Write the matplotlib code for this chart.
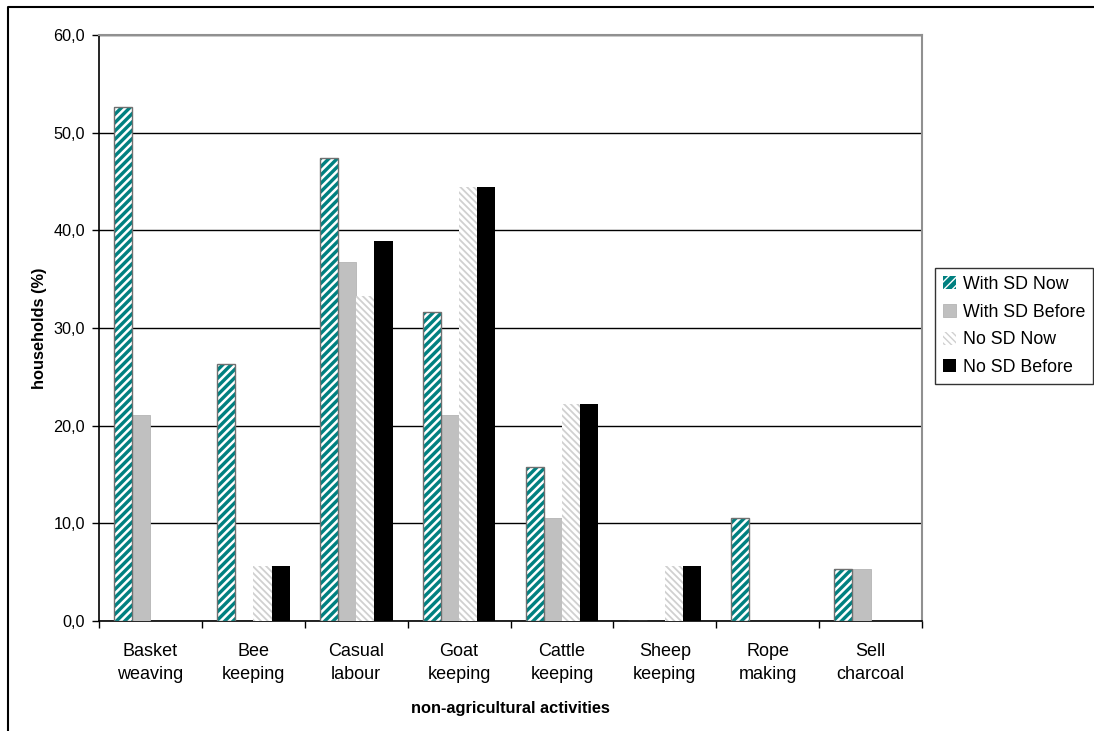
import matplotlib
matplotlib.use("Agg")
import matplotlib.pyplot as plt
from matplotlib.ticker import FuncFormatter, MultipleLocator, FixedLocator
from matplotlib.lines import Line2D
import numpy as np

plt.rcParams['font.family'] = ['Liberation Sans', 'DejaVu Sans']

categories = ["Basket\nweaving", "Bee\nkeeping", "Casual\nlabour", "Goat\nkeeping",
              "Cattle\nkeeping", "Sheep\nkeeping", "Rope\nmaking", "Sell\ncharcoal"]
series_names = ["With SD Now", "With SD Before", "No SD Now", "No SD Before"]
with_sd_now = [52.6, 26.3, 47.4, 31.6, 15.8, 0.0, 10.5, 5.3]
with_sd_before = [21.1, 0.0, 36.8, 21.1, 10.5, 0.0, 0.0, 5.3]
no_sd_now = [0.0, 5.6, 33.3, 44.4, 22.2, 5.6, 0.0, 0.0]
no_sd_before = [0.0, 5.6, 38.9, 44.4, 22.2, 5.6, 0.0, 0.0]

W, H = 1094, 731
fig = plt.figure(figsize=(W / 100, H / 100), dpi=100)
ax = fig.add_axes([99 / W, 1 - 621 / H, (922 - 99) / W, (621 - 35) / H])

x = np.arange(len(categories))
bw = 0.177
offsets = (np.arange(4) - 1.5) * bw

def set_hlw(bars, lw):
    for b in bars:
        try:
            b.set_hatch_linewidth(lw)
        except Exception:
            pass

# Series 1: teal with white diagonal stripes
b1 = ax.bar(x + offsets[0], with_sd_now, bw, color="#008080", edgecolor="white",
            hatch="////", linewidth=0, zorder=3)
set_hlw(b1, 1.8)
ax.bar(x + offsets[0], with_sd_now, bw, fill=False, edgecolor="#707070",
       linewidth=1.0, zorder=4)
# Series 2: light gray
b2 = ax.bar(x + offsets[1], with_sd_before, bw, color="#C0C0C0", edgecolor="#B4B4B4",
            linewidth=0.6, zorder=3)
# Series 3: white with light gray backslash stripes
b3 = ax.bar(x + offsets[2], no_sd_now, bw, color="white", edgecolor="#D0D0D0",
            hatch="\\\\\\\\\\", linewidth=0, zorder=3)
set_hlw(b3, 1.3)
# Series 4: black
b4 = ax.bar(x + offsets[3], no_sd_before, bw, color="black", edgecolor="black",
            linewidth=0, zorder=3)

ax.set_xlim(-0.5, len(categories) - 0.5)
ax.set_ylim(0, 60)
ax.yaxis.set_major_locator(MultipleLocator(10))
ax.yaxis.set_major_formatter(FuncFormatter(lambda v, p: f"{v:.1f}".replace('.', ',')))
ax.grid(axis='y', color='black', linewidth=1.0, zorder=1)
ax.set_axisbelow(True)

ax.set_xticks(x)
ax.set_xticklabels(categories, fontsize=13, linespacing=1.45)
ax.xaxis.set_minor_locator(FixedLocator(np.arange(-0.5, len(categories), 1.0)))
ax.tick_params(axis='x', which='major', length=0, pad=16)
ax.tick_params(axis='x', which='minor', length=5, width=1, color='black', direction='out')
ax.tick_params(axis='y', length=5, width=1, direction='out', labelsize=11.7, pad=5)

for s in ['left', 'bottom']:
    ax.spines[s].set_color('black')
    ax.spines[s].set_linewidth(1.2)
for s in ['top', 'right']:
    ax.spines[s].set_color('#909090')
    ax.spines[s].set_linewidth(1.5)

ax.set_ylabel("households (%)", fontsize=11.8, fontweight='bold', labelpad=5)
ax.set_xlabel("non-agricultural activities", fontsize=11.8, fontweight='bold', labelpad=13)

handles = [b1[0], b2[0], b3[0], b4[0]]
leg = fig.legend(handles, series_names, loc='upper left',
                 bbox_to_anchor=(935 / W, 1 - 268 / H), bbox_transform=fig.transFigure,
                 fontsize=12.8, frameon=True, fancybox=False, shadow=False,
                 handlelength=0.75, handleheight=0.75, handletextpad=0.35,
                 labelspacing=0.6, borderpad=0.45, borderaxespad=0)
leg.get_frame().set_edgecolor('black')
leg.get_frame().set_linewidth(1.0)

# outer chart border
fig.add_artist(Line2D([8 / W, 8 / W, 1.0], [0.0, 1 - 7 / H, 1 - 7 / H],
                      transform=fig.transFigure, color='black', linewidth=1.5))

fig.savefig("out.png", dpi=100)
